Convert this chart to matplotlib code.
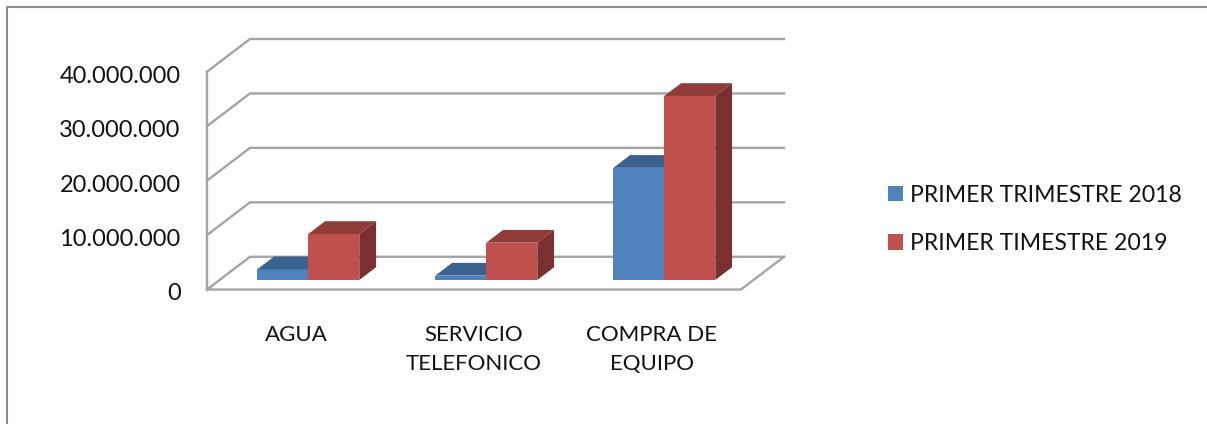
import matplotlib
matplotlib.use("Agg")
import matplotlib.pyplot as plt
from matplotlib.lines import Line2D
from matplotlib.patches import Patch, Polygon
from matplotlib.transforms import ScaledTranslation

plt.rcParams['font.family'] = ['Lato', 'DejaVu Sans']

categories = ["AGUA", "SERVICIO\nTELEFONICO", "COMPRA DE\nEQUIPO"]
primer_2018 = [1970000, 800000, 20600000]
primer_2019 = [8450000, 6850000, 33800000]
y_ticks = [0, 10000000, 20000000, 30000000, 40000000]
y_labels = ["0", "10.000.000", "20.000.000", "30.000.000", "40.000.000"]
label_2018 = "PRIMER TRIMESTRE 2018"
label_2019 = "PRIMER TIMESTRE 2019"

W, H = 1207, 424
GRID = "#a4a4a4"

# oblique depth of the fake 3d box, in data units
DX = 43 / 178
DY = 6010000
BAR_W = 0.2865
BAR_GAP = 0.2125
D0, D1 = 0.29, 0.68


def proj(x, y, d):
    return (x + DX * d, y + DY * d)


def draw_bar(ax, x, val, front, top, side):
    ax.add_patch(Polygon([proj(x, 0, D0), proj(x + BAR_W, 0, D0), proj(x + BAR_W, val, D0), proj(x, val, D0)],
                         fc=front, ec="none", zorder=3))
    ax.add_patch(Polygon([proj(x, val, D0), proj(x + BAR_W, val, D0), proj(x + BAR_W, val, D1), proj(x, val, D1)],
                         fc=top, ec="none", zorder=3))
    ax.add_patch(Polygon([proj(x + BAR_W, 0, D0), proj(x + BAR_W, 0, D1), proj(x + BAR_W, val, D1), proj(x + BAR_W, val, D0)],
                         fc=side, ec="none", zorder=3))


fig = plt.figure(figsize=(W / 100, H / 100), dpi=100)
ax = fig.add_axes([207 / W, 1 - 289.5 / H, 534 / W, 217.8 / H])
ax.set_xlim(0, 3)
ax.set_ylim(0, 40000000)
ax.patch.set_visible(False)
for s in ax.spines.values():
    s.set_visible(False)

# walls and gridlines
for t in y_ticks:
    ax.plot(*zip(proj(0, t, 0), proj(0, t, 1), proj(3, t, 1)), color=GRID, lw=1.7, clip_on=False, zorder=1)
ax.plot(*zip(proj(0, 0, 0), proj(0, y_ticks[-1], 0)), color=GRID, lw=1.7, clip_on=False, zorder=1)
ax.plot(*zip(proj(0, 0, 0), proj(3, 0, 0), proj(3, 0, 1)), color=GRID, lw=1.7, clip_on=False, zorder=1)

for i in range(len(categories)):
    left = i + BAR_GAP
    draw_bar(ax, left, primer_2018[i], "#4f81bd", "#3b618e", "#2f4d71")
    draw_bar(ax, left + BAR_W, primer_2019[i], "#c0504d", "#903c39", "#7a302e")

ax.set_xticks([0.5, 1.5, 2.5])
ax.set_xticklabels(categories, fontsize=16, linespacing=1.56, color="#111111")
ax.set_yticks(y_ticks)
ax.set_yticklabels(y_labels, fontsize=17, color="#111111")
ax.tick_params(axis="x", length=0, pad=25.5)
ax.tick_params(axis="y", length=0, pad=19)

# labels sit a little under their gridline
shift = ScaledTranslation(0, -2.5 / 100, fig.dpi_scale_trans)
for lab in ax.get_yticklabels():
    lab.set_transform(lab.get_transform() + shift)

handles = [Patch(fc="#4f81bd", label=label_2018), Patch(fc="#c0504d", label=label_2019)]
fig.legend(handles=handles, loc="center left", bbox_to_anchor=(888 / W, 1 - 219.5 / H), frameon=False,
           fontsize=16.6, handlelength=0.67, handleheight=0.67, handletextpad=0.3, labelspacing=1.2,
           borderpad=0, borderaxespad=0, labelcolor="#111111")

# chart frame, only top and left show
fig.add_artist(Line2D([6.5 / W, 6.5 / W, 1], [0, 1 - 6.5 / H, 1 - 6.5 / H], color="#8c8c8c", lw=1.5))

fig.savefig("out.png", dpi=100)
